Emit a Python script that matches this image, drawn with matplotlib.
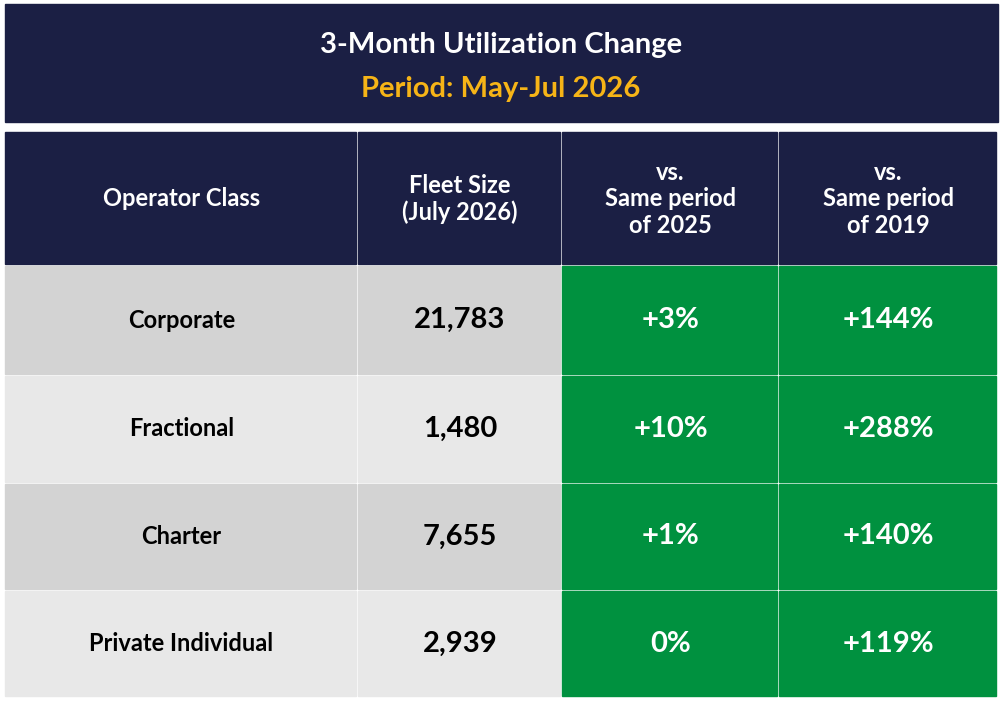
import matplotlib
matplotlib.use("Agg")
import matplotlib.pyplot as plt
from matplotlib.patches import Rectangle

title = "3-Month Utilization Change"
subtitle = "Period: May-Jul 2026"
headers = ["Operator Class", "Fleet Size\n(July 2026)", "vs.\nSame period\nof 2025", "vs.\nSame period\nof 2019"]
classes = ["Corporate", "Fractional", "Charter", "Private Individual"]
fleet = ["21,783", "1,480", "7,655", "2,939"]
vs2025 = ["+3%", "+10%", "0%"]
vs2025 = ["+3%", "+10%", "+1%", "0%"]
vs2019 = ["+144%", "+288%", "+140%", "+119%"]

NAVY = "#1b1f44"
YELLOW = "#f6b417"
GREEN = "#00913f"
GRAY = ["#d3d3d3", "#e8e8e8"]
FONT = ["Lato", "DejaVu Sans"]

fig = plt.figure(figsize=(10.04, 7.04), dpi=100)
ax = fig.add_axes([0, 0, 1, 1])
ax.set_xlim(0, 1004); ax.set_ylim(704, 0); ax.axis("off")

ax.add_patch(Rectangle((5, 4), 993, 118, color=NAVY))
ax.text(501, 45, title, ha="center", va="center", color="white", fontsize=21, fontweight="bold", family=FONT)
ax.text(501, 89, subtitle, ha="center", va="center", color=YELLOW, fontsize=21, fontweight="bold", family=FONT)

xs = [5, 358, 562, 779, 998]
ys = [132, 266, 376, 484, 591, 698]
gap = 2
for j, h in enumerate(headers):
    x0, x1 = xs[j], xs[j + 1]
    ax.add_patch(Rectangle((x0, ys[0]), x1 - x0 - gap, ys[1] - ys[0] - gap, color=NAVY))
    ax.text((x0 + x1) / 2, (ys[0] + ys[1]) / 2, h, ha="center", va="center", color="white",
            fontsize=17, fontweight="bold", family=FONT, linespacing=1.2)

for i in range(len(classes)):
    y0, y1 = ys[i + 1], ys[i + 2]
    vals = [classes[i], fleet[i], vs2025[i], vs2019[i]]
    for j, v in enumerate(vals):
        x0, x1 = xs[j], xs[j + 1]
        c = GRAY[i % 2] if j < 2 else GREEN
        ax.add_patch(Rectangle((x0, y0), x1 - x0 - gap, y1 - y0 - gap, color=c))
        tc = "black" if j < 2 else "white"
        fs = 17 if j == 0 else 21
        ax.text((x0 + x1) / 2, (y0 + y1) / 2 - 1, v, ha="center", va="center", color=tc,
                fontsize=fs, fontweight="bold", family=FONT)

fig.savefig("out.png", dpi=100, facecolor="white")
